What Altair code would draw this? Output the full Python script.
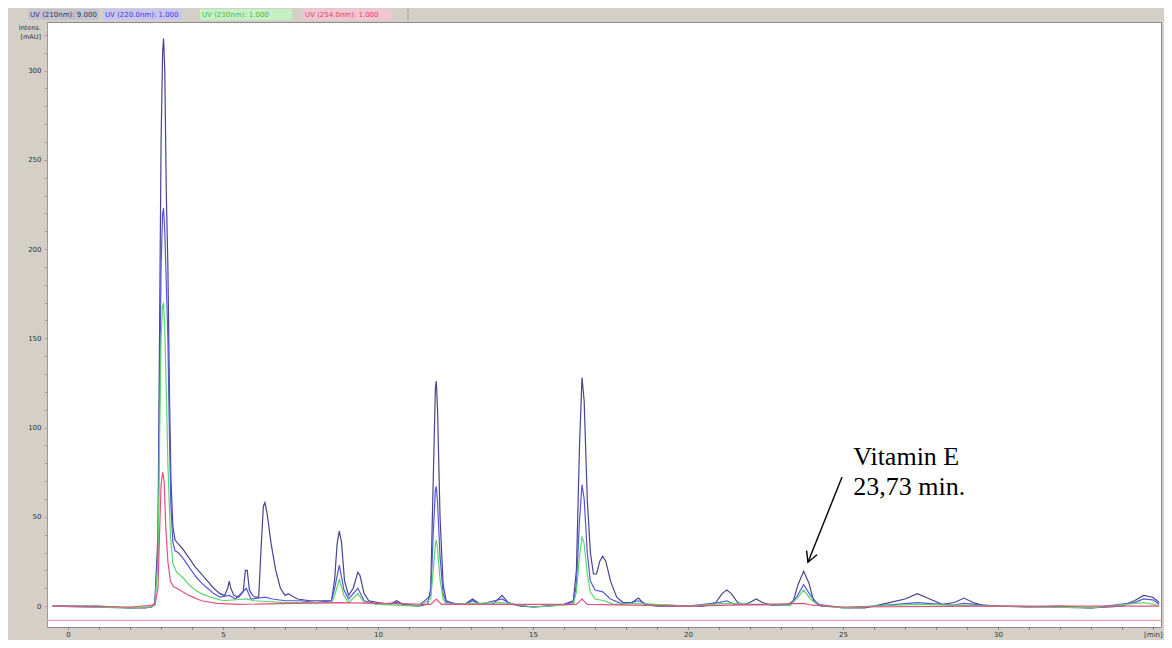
import altair as alt
import pandas as pd

# ---------------- data ----------------
# trace 1 (dark, tallest)
t_a = [-0.5, 0.0, 1.0, 1.5, 2.0, 2.5, 2.7, 2.8, 2.9, 2.95, 3.0, 3.05, 3.08, 3.12, 3.17, 3.22,
       3.27, 3.32, 3.38, 3.45, 3.55, 3.7, 3.9, 4.1, 4.3, 4.5, 4.7, 4.9, 5.05, 5.15, 5.2, 5.25,
       5.35, 5.5, 5.65, 5.72, 5.78, 5.85, 5.95, 6.05, 6.15, 6.22, 6.3, 6.35, 6.42, 6.55, 6.7,
       6.85, 7.0, 7.1, 7.2, 7.4, 7.8, 8.2, 8.5, 8.6, 8.68, 8.75, 8.82, 8.92, 9.05, 9.2, 9.35,
       9.42, 9.55, 9.7, 10.0, 10.4, 10.6, 10.8, 11.3, 11.6, 11.7, 11.78, 11.85, 11.88, 11.92,
       12.0, 12.1, 12.2, 12.5, 12.8, 13.05, 13.3, 13.7, 14.0, 14.2, 14.6, 15.0, 15.5, 16.0,
       16.3, 16.4, 16.5, 16.58, 16.65, 16.75, 16.85, 16.95, 17.05, 17.15, 17.25, 17.35, 17.5,
       17.7, 17.9, 18.2, 18.4, 18.6, 19.0, 20.0, 20.5, 20.9, 21.1, 21.25, 21.4, 21.6, 21.8,
       22.0, 22.2, 22.4, 22.7, 23.2, 23.4, 23.55, 23.73, 23.9, 24.05, 24.3, 24.8, 25.2, 25.7,
       26.0, 26.5, 27.0, 27.4, 27.8, 28.2, 28.6, 28.9, 29.2, 29.6, 30.0, 31.0, 32.0, 33.0,
       34.0, 34.4, 34.7, 35.0, 35.2]
v_a = [0, 0, 0, -0.5, -1, -1, -0.5, 2, 40, 150, 260, 310, 318, 300, 230, 190,
       120, 70, 45, 37, 35, 32, 27, 22, 18, 14, 10, 7, 6, 10, 14, 10,
       6, 5, 8, 20, 20, 9, 6, 5, 5, 30, 56, 58, 52, 35, 20,
       10, 6, 7, 6, 4, 3, 3, 3, 15, 35, 42, 36, 14, 6, 10, 19,
       17, 7, 3, 2, 1, 3, 1, 0, 1, 10, 70, 122, 126, 110,
       50, 12, 3, 1, 1, 4, 1, 1, 6, 2, 0, -0.5, 0, 1,
       3, 20, 90, 128, 115, 60, 30, 18, 18, 25, 28, 25, 14,
       5, 2, 2, 4.5, 1, 0, 0, 0, 2, 7, 9, 7, 2, 1,
       2, 4, 2, 0.5, 0.5, 3, 12, 19.5, 13, 3, 0, -0.5, -1, -1,
       0, 2, 4, 7, 4, 1, 2, 4.5, 2, 0, 0, -0.5, 0, -1,
       0, 3, 6, 5, 2]

# trace 2 (blue)
t_b = [-0.5, 2.0, 2.7, 2.8, 2.9, 2.95, 3.0, 3.05, 3.08, 3.12, 3.17, 3.22, 3.27, 3.32, 3.38,
       3.45, 3.55, 3.7, 3.9, 4.1, 4.3, 4.5, 4.7, 4.9, 5.2, 5.4, 5.75, 5.9, 6.35, 6.6, 7.0,
       7.5, 8.0, 8.5, 8.6, 8.75, 8.9, 9.05, 9.35, 9.55, 10.0, 10.6, 11.3, 11.7, 11.78, 11.85,
       11.88, 11.92, 12.0, 12.1, 12.2, 12.8, 13.05, 13.3, 14.0, 14.3, 15.0, 16.0, 16.3, 16.4,
       16.5, 16.58, 16.65, 16.75, 16.85, 17.0, 17.25, 17.5, 17.9, 18.4, 18.7, 20.0, 21.0,
       21.25, 21.5, 23.3, 23.5, 23.73, 23.95, 24.2, 25.0, 26.0, 27.4, 28.5, 28.9, 30.0, 33.0,
       34.4, 34.7, 35.0, 35.2]
v_b = [0, -1, -0.5, 2, 30, 110, 190, 220, 223, 210, 180, 150, 95, 55, 36,
       31, 30, 27, 22, 17, 13, 10, 7, 5, 6, 4, 10, 4, 5, 4, 3,
       3, 2, 3, 10, 23, 9, 4, 10, 3, 1, 2, 0, 6, 40, 65,
       67, 58, 28, 7, 2, 1, 3, 1, 4, 1, -0.5, 1, 2, 12,
       48, 68, 60, 30, 14, 9, 8, 4, 1, 3, 1, 0, 2,
       3, 1, 0.5, 5, 12, 6, 1, -1, 0, 2, 0.5, 1.5, 0, -1,
       2, 4, 3.5, 1]

# trace 3 (green)
t_c = [-0.5, 2.0, 2.7, 2.8, 2.9, 2.95, 3.0, 3.05, 3.08, 3.12, 3.17, 3.22, 3.3, 3.38, 3.5,
       3.7, 3.9, 4.1, 4.3, 4.6, 5.0, 5.75, 6.0, 7.0, 8.5, 8.6, 8.75, 8.9, 9.05, 9.35, 9.55,
       10.0, 11.3, 11.7, 11.78, 11.85, 11.88, 11.92, 12.0, 12.1, 12.2, 13.05, 14.0, 15.0,
       16.0, 16.3, 16.4, 16.5, 16.58, 16.65, 16.75, 16.85, 17.0, 17.3, 17.6, 18.4, 20.0,
       21.25, 23.3, 23.5, 23.73, 23.95, 24.2, 25.0, 26.0, 27.4, 30.0, 33.0, 34.7, 35.2]
v_c = [0, -1, -0.5, 1, 25, 90, 150, 168, 170, 155, 120, 80, 40, 24, 19,
       16, 12, 9, 7, 5, 3, 4, 3, 2, 2, 6, 15, 6, 2, 7, 2,
       1, 0, 4, 20, 35, 37, 32, 15, 4, 1, 1.5, 2, -0.5,
       0.5, 1, 8, 28, 39, 35, 18, 8, 4, 3, 1, 1.5, 0,
       1.5, 0.5, 4, 9, 4, 0.5, -1, 0, 1, 0, -1, 2, 0.5]

# trace 4 (pink)
t_d = [-0.5, 2.0, 2.8, 2.9, 2.95, 3.0, 3.05, 3.1, 3.15, 3.22, 3.3, 3.4, 3.6, 3.9, 4.3,
       4.8, 5.5, 8.75, 11.7, 11.88, 12.05, 16.4, 16.58, 16.75, 20.0, 23.73, 24.0, 25.0,
       30.0, 35.2]
v_d = [0, -0.5, 0.5, 10, 40, 68, 75, 70, 45, 25, 14, 11, 9, 6, 3,
       1.5, 1, 2, 1, 4, 1, 1, 4, 1, 0, 1.5, 0.5, -0.5,
       0, 0]

trace_labels = ["UV (210nm): 9.000", "UV (220.0nm): 1.000", "UV (230nm): 1.000", "UV (254.0nm): 1.000"]
trace_colors = ["#46468e", "#5656dc", "#5cd86a", "#e6507e"]
legend_fills = ["#c4c4d0", "#c6c6f0", "#c6f0c6", "#f2c6d2"]

x_ticks = list(range(0, 36))
y_ticks = list(range(0, 330, 10))

ann_lines = ["Vitamin E", "23,73 min."]
ann_text_x = [25.33, 25.33]
ann_text_y = [83.5, 66.5]
arrow_from = [24.97, 72.3]
arrow_to = [23.87, 24.6]

X_MIN, X_MAX = -0.68, 35.26
Y_MIN, Y_MAX = -11.7, 327.2
W, H = 1114, 605

# ---------------- chart ----------------
xs = alt.Scale(domain=[X_MIN, X_MAX], nice=False, zero=False)
ys = alt.Scale(domain=[Y_MIN, Y_MAX], nice=False, zero=False)

x_axis = alt.Axis(values=x_ticks, title=None, grid=False, domain=False,
                  labelExpr="datum.value % 5 == 0 ? (datum.value == 35 ? '[min]' : datum.label) : ''",
                  tickSize=2, tickColor="#707070", labelFontSize=7, labelColor="#303030",
                  labelFont="DejaVu Sans", labelPadding=1, labelOverlap=False, labelFlush=False)
y_axis = alt.Axis(values=y_ticks, title=None, grid=False, domain=True, domainColor="#e07a90",
                  labelExpr="datum.value % 50 == 0 ? datum.label : ''",
                  tickSize=3, tickColor="#d08898", labelFontSize=7, labelColor="#303030",
                  labelFont="DejaVu Sans", labelPadding=3, labelOverlap=False, labelFlush=False)


def X(field):
    return alt.X(field, type="quantitative", scale=xs, axis=x_axis)


def Y(field):
    return alt.Y(field, type="quantitative", scale=ys, axis=y_axis)


one = pd.DataFrame({"k": [0]})

layers = []
series = [(t_a, v_a), (t_b, v_b), (t_c, v_c), (t_d, v_d)]
for i, (tt, vv) in enumerate(series):
    df = pd.DataFrame({"t": tt, "v": vv})
    layers.append(alt.Chart(df).mark_line(color=trace_colors[i], strokeWidth=1.2,
                                          interpolate="linear").encode(x=X("t"), y=Y("v")))

# pink baseline near the bottom
layers.append(alt.Chart(pd.DataFrame({"b": [-8.0]})).mark_rule(color="#e890a0", strokeWidth=1).encode(
    y=Y("b"), x=alt.value(0), x2=alt.value(W)))

# annotation
ann_df = pd.DataFrame({"x": ann_text_x, "y": ann_text_y, "txt": ann_lines})
layers.append(alt.Chart(ann_df).mark_text(align="left", baseline="middle", fontSize=26,
                                          font="Liberation Serif", color="#000000").encode(
    x=X("x"), y=Y("y"), text="txt:N"))
arrow_df = pd.DataFrame({"x": [arrow_from[0]], "y": [arrow_from[1]],
                         "x2": [arrow_to[0]], "y2": [arrow_to[1]]})
layers.append(alt.Chart(arrow_df).mark_rule(color="#000000", strokeWidth=1.4).encode(
    x=X("x"), y=Y("y"), x2="x2:Q", y2="y2:Q"))
head_df = pd.DataFrame({"x": [arrow_to[0]], "y": [arrow_to[1]]})
layers.append(alt.Chart(head_df).mark_point(
    shape="M -0.55 -1 L 0 0 L 0.55 -1", filled=False, stroke="#000000", strokeWidth=1.4,
    size=420, angle=22, opacity=1).encode(x=X("x"), y=Y("y")))

# header bar with channel labels
layers.append(alt.Chart(one).mark_rect(color="#b8b4ac").encode(
    x=alt.value(-39), x2=alt.value(W + 3), y=alt.value(-15), y2=alt.value(-14)))
box_x = [(-19, 52), (56, 135), (153, 245), (256, 345)]
text_colors = ["#303060", "#3c3cd0", "#3cbc4c", "#e04070"]
for i in range(4):
    layers.append(alt.Chart(one).mark_rect(color=legend_fills[i]).encode(
        x=alt.value(box_x[i][0]), x2=alt.value(box_x[i][1]),
        y=alt.value(-13), y2=alt.value(-2)))
    layers.append(alt.Chart(one).mark_text(align="left", baseline="middle", fontSize=7,
                                           font="DejaVu Sans", color=text_colors[i]).encode(
        x=alt.value(box_x[i][0] + 2), y=alt.value(-7.5), text=alt.value(trace_labels[i])))
layers.append(alt.Chart(one).mark_rule(color="#a09c94").encode(
    x=alt.value(361), y=alt.value(-13), y2=alt.value(-2)))

# y title
layers.append(alt.Chart(one).mark_text(align="right", baseline="top", fontSize=6.5,
                                       font="DejaVu Sans", color="#303030", lineBreak="\n").encode(
    x=alt.value(-6), y=alt.value(3), text=alt.value("Intens.\n[mAU]")))

chart = alt.layer(*layers).properties(
    width=W, height=H,
    padding={"left": 39, "top": 14, "right": 3, "bottom": 13},
    autosize=alt.AutoSizeParams(type="none"),
    background="#d4d0c8",
).configure_view(fill="white", stroke="#8a8a8a", strokeWidth=1)

chart.save("out.html", embed_options={"renderer": "svg", "actions": False})
